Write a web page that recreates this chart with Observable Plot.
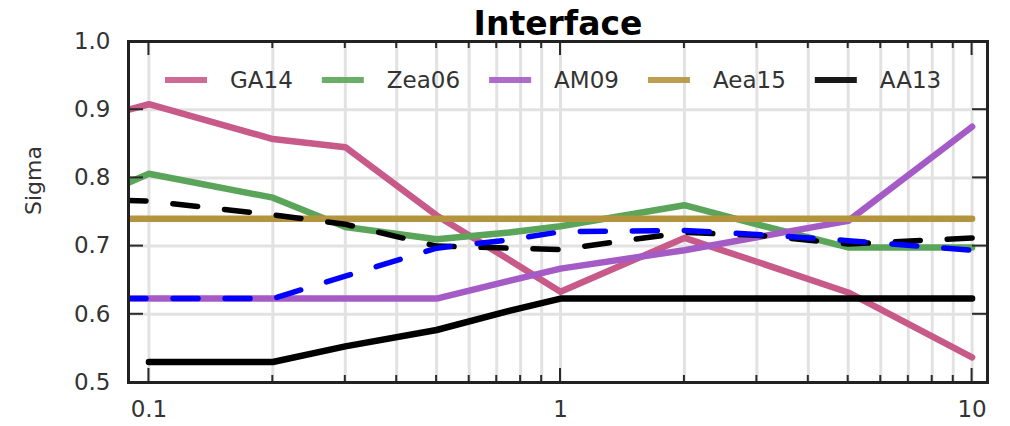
<!DOCTYPE html>
<html>
<head>
<meta charset="utf-8">
<script src="https://cdn.jsdelivr.net/npm/d3@7"></script>
<script src="https://cdn.jsdelivr.net/npm/@observablehq/plot@0.6"></script>
<style>
  html, body { margin: 0; padding: 0; background: #fff; }
  #chart { width: 1010px; height: 426px; }
</style>
</head>
<body>
<div id="chart"></div>
<script>
// Spectral periods (s); the first period lies left of the visible x range.
const periods = [0.05, 0.1, 0.2, 0.3, 0.5, 0.75, 1, 2, 3, 5, 10];

// Sigma per model at each period
const GA14  = [0.860, 0.908, 0.857, 0.845, 0.745, 0.680, 0.633, 0.712, 0.677, 0.632, 0.537];
const Zea06 = [0.727, 0.806, 0.771, 0.728, 0.710, 0.720, 0.729, 0.760, 0.732, 0.698, 0.698];
const AM09  = [0.623, 0.623, 0.623, 0.623, 0.623, 0.649, 0.667, 0.694, 0.713, 0.737, 0.875];
const Aea15 = [0.740, 0.740, 0.740, 0.740, 0.740, 0.740, 0.740, 0.740, 0.740, 0.740, 0.740];
const AA13  = [null,  0.530, 0.530, 0.553, 0.577, 0.605, 0.623, 0.623, 0.623, 0.623, 0.623];
// Two reference curves drawn dashed (not in the legend)
const refBlack = [0.772, 0.766, 0.746, 0.732, 0.700, 0.697, 0.695, 0.720, 0.716, 0.703, 0.712];
const refBlue  = [0.623, 0.623, 0.623, 0.656, 0.697, 0.709, 0.721, 0.723, 0.717, 0.708, 0.694];

const models = ["GA14", "Zea06", "AM09", "Aea15", "AA13"];
const modelValues = [GA14, Zea06, AM09, Aea15, AA13];
const modelColors = ["#c85a8a", "#5aa55a", "#a55bc5", "#b59440", "#000000"];

const xTickLabels = [0.1, 1, 10];
const yTickLabels = [0.5, 0.6, 0.7, 0.8, 0.9, 1.0];
const xMinor = [0.1, 0.2, 0.3, 0.4, 0.5, 0.6, 0.7, 0.8, 0.9, 1, 2, 3, 4, 5, 6, 7, 8, 9, 10];
const yGrid = [0.6, 0.7, 0.8, 0.9];

const toRows = (vals) => periods.map((p, i) => ({p, v: vals[i]})).filter(d => d.v != null);

const font = "DejaVu Sans, Liberation Sans, sans-serif";
const textColor = "#333";
const gridColor = "#e2e2e2";

const lineMarks = models.map((m, k) =>
  Plot.line(toRows(modelValues[k]), {x: "p", y: "v", stroke: modelColors[k], strokeWidth: 6.5, clip: true})
);

const chart = Plot.plot({
  width: 1010,
  height: 426,
  marginLeft: 128,
  marginRight: 23,
  marginTop: 41,
  marginBottom: 44,
  style: {fontFamily: font, fontSize: "23px", color: textColor, background: "#fff"},
  x: {type: "log", domain: [0.0892, 10.9]},
  y: {domain: [0.5, 1.0]},
  marks: [
    Plot.gridX(xMinor, {stroke: gridColor, strokeOpacity: 1, strokeWidth: 3}),
    Plot.gridY(yGrid, {stroke: gridColor, strokeOpacity: 1, strokeWidth: 3}),
    ...lineMarks,
    Plot.line(toRows(refBlack), {x: "p", y: "v", stroke: "#000", strokeWidth: 5.5, strokeDasharray: "25,27", strokeDashoffset: 8, clip: true}),
    Plot.line(toRows(refBlue), {x: "p", y: "v", stroke: "#0000ff", strokeWidth: 5.5, strokeDasharray: "25,27", strokeDashoffset: 8, clip: true}),
    Plot.axisX(xTickLabels, {tickSize: 0, tickPadding: 18, tickFormat: d => String(d), fontSize: 23, fill: textColor, label: null}),
    Plot.axisY(yTickLabels, {tickSize: 0, tickPadding: 18, tickFormat: d3.format(".1f"), fontSize: 23, fill: textColor, label: null}),
    Plot.text(["Sigma"], {frameAnchor: "left", dx: -95, dy: 3, rotate: -90, fontSize: 22, fill: textColor}),
    Plot.text(["Interface"], {frameAnchor: "top", lineAnchor: "bottom", dy: -7, fontSize: 33, fontWeight: "bold", fill: "#000"}),
    Plot.frame({stroke: "#222", strokeWidth: 3})
  ]
});

document.getElementById("chart").appendChild(chart);

// Inward tick marks on all four sides, positioned through the chart's scales
const sx = chart.scale("x"), sy = chart.scale("y");
const [xl, xr] = sx.range;
const [yb, yt] = sy.range;
const svg = d3.select(chart);
const ticks = svg.append("g").attr("stroke", "#2a2a2a").attr("stroke-width", 2);
for (const v of xMinor) {
  const x = sx.apply(v);
  const len = xTickLabels.includes(v) ? 14 : 7;
  ticks.append("line").attr("x1", x).attr("x2", x).attr("y1", yb).attr("y2", yb - len);
  ticks.append("line").attr("x1", x).attr("x2", x).attr("y1", yt).attr("y2", yt + len);
}
for (const v of yTickLabels) {
  const y = sy.apply(v);
  ticks.append("line").attr("x1", xl).attr("x2", xl + 15).attr("y1", y).attr("y2", y);
  ticks.append("line").attr("x1", xr).attr("x2", xr - 15).attr("y1", y).attr("y2", y);
}
// keep the frame on top
const frameEl = chart.querySelector("[aria-label=frame]");
if (frameEl) chart.appendChild(frameEl);

// Legend row inside the plot area
const legend = svg.append("g")
  .attr("font-family", font).attr("font-size", 23)
  .attr("fill", textColor).attr("text-anchor", "start");
let lx = xl + 37;
const ly = yt + 39;
models.forEach((m, k) => {
  legend.append("line")
    .attr("x1", lx).attr("x2", lx + 42).attr("y1", ly).attr("y2", ly)
    .attr("stroke", modelColors[k]).attr("stroke-width", 6).attr("stroke-opacity", 0.9);
  const t = legend.append("text").attr("x", lx + 65).attr("y", ly).attr("dy", "0.36em").text(m);
  const w = t.node().getComputedTextLength();
  lx = lx + 65 + w + 29;
});
</script>
</body>
</html>
